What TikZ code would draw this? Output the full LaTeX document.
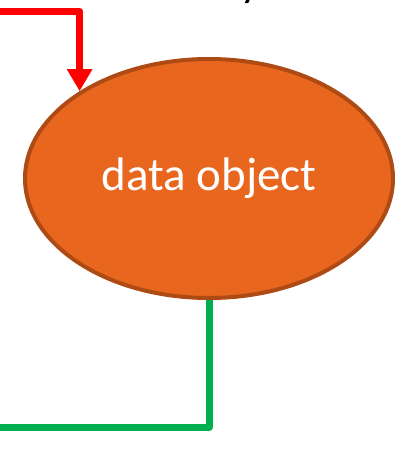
\documentclass[tikz,border=0pt]{standalone}
\usepackage{fontspec}
\newfontfamily\carlito{Carlito}
\usetikzlibrary{shapes.geometric,arrows.meta}
\definecolor{objfill}{HTML}{E9661F}
\definecolor{objdraw}{HTML}{AE4A14}
\definecolor{inred}{HTML}{FF0000}
\definecolor{outgreen}{HTML}{00B050}
\tikzset{
  dataobj/.style={ellipse, draw=objdraw, line width=4pt, fill=objfill,
    minimum width=368pt, minimum height=239pt, inner sep=0pt,
    text=white, font=\carlito\fontsize{47}{56}\selectfont},
  inflow/.style={draw=inred, line width=7pt, line join=round,
    -{Triangle[width=24pt,length=22pt]}},
  outflow/.style={draw=outgreen, line width=7pt, line join=round},
}
\begin{document}
\begin{tikzpicture}[x=1pt,y=-1pt]
\useasboundingbox (0,0) rectangle (400,450);
\node[anchor=base west, inner sep=0pt, font=\carlito\fontsize{44}{52}\selectfont] (frag) at (240,-4) {y};
\node[dataobj] (obj) at (209,178.5) {data object};
\coordinate (rin) at (-4,11);
\coordinate (gout) at (-4,427);
\draw[inflow] (rin) -| (obj.146.6);
\draw[outflow] (obj.south) |- (gout);
\end{tikzpicture}
\end{document}
